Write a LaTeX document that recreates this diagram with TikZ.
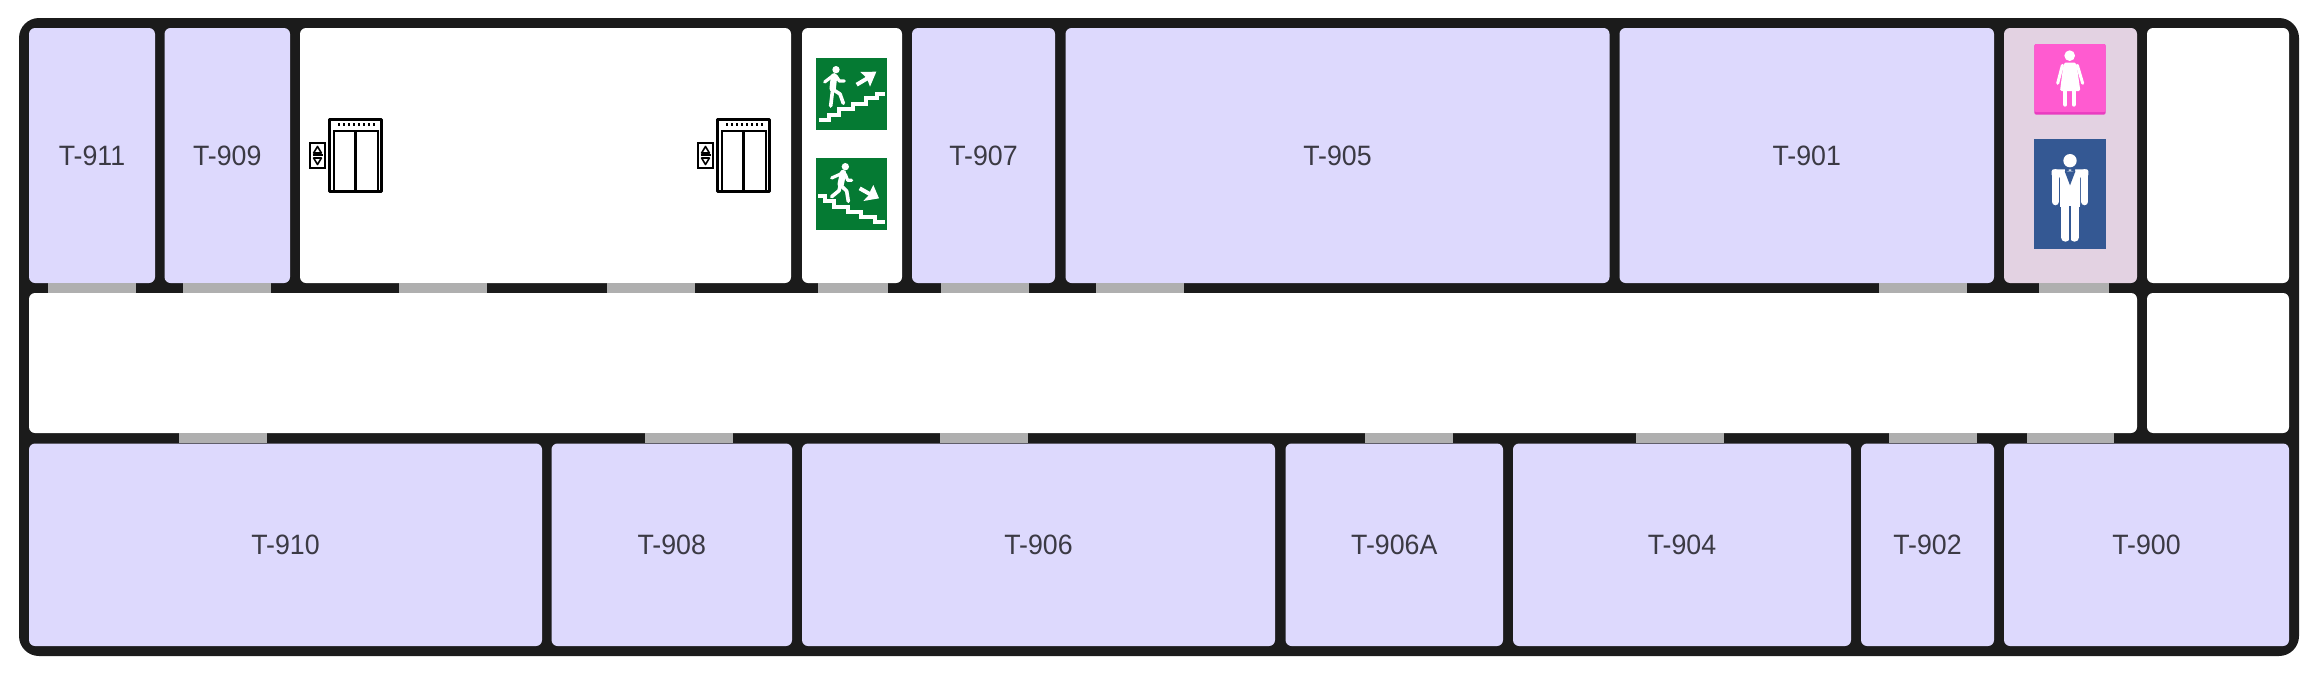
\documentclass[tikz,border=0pt]{standalone}
\usepackage{fontspec}
\setmainfont[FakeStretch=0.955]{Liberation Sans}
\definecolor{wall}{HTML}{1B1B1B}
\definecolor{roomfill}{HTML}{DDD9FD}
\definecolor{wcfill}{HTML}{E3D2E2}
\definecolor{doorgrey}{HTML}{AFAFAF}
\definecolor{labelink}{HTML}{3B3A44}
\definecolor{signgreen}{HTML}{057A33}
\definecolor{signpink}{HTML}{FF5BD0}
\definecolor{signpinkdark}{HTML}{E93CC0}
\definecolor{signblue}{HTML}{345893}
\tikzset{
  roombox/.style={rectangle,rounded corners=6pt,inner sep=0pt,outer sep=0pt,fill=roomfill,text=labelink,font=\fontsize{28}{32}\selectfont},
  whitebox/.style={roombox,fill=white},
  wcbox/.style={roombox,fill=wcfill},
  doorbox/.style={rectangle,inner sep=0pt,outer sep=0pt,fill=doorgrey},
  liftline/.style={draw=black,line width=2.6pt},
  figline/.style={draw=white,line cap=round,line join=round},
  stairline/.style={draw=white,line width=4.2pt,line join=miter,line cap=butt}
}
\newcommand{\room}[7]{% name,x0,y0,x1,y1,style,text
  \node[#6,minimum width={(#4-#2)*1pt},minimum height={(#5-#3)*1pt}] (#1) at ({(#2+#4)/2},{(#3+#5)/2}) {#7};}
\newcommand{\door}[4]{% name,x0,x1,y centre
  \node[doorbox,minimum width={(#3-#2)*1pt},minimum height=10.2pt] (#1) at ({(#2+#3)/2},#4) {};}
\newcommand{\liftsign}[1]{%
  \begin{scope}[shift={(#1,0)}]
    \draw[liftline,line join=round] (329.5,119.5) rectangle (381.5,191.5);
    \draw[liftline,line width=2pt] (333.5,191) -- (333.5,130.5) -- (377.5,130.5) -- (377.5,191);
    \draw[liftline] (355.5,130.5) -- (355.5,191);
    \foreach \dx in {0,...,7} \fill[black] ({338+\dx*5},123.4) rectangle ({340.2+\dx*5},125.6);
    \draw[liftline] (309.8,142.8) rectangle (325,167.8);
    \draw[black,line width=1.6pt] (312.5,155.2) -- (322.5,155.2);
    \draw[black,line width=1.6pt,line join=round] (317.5,146.5) -- (313.6,153) -- (321.4,153) -- cycle;
    \draw[black,line width=1.6pt,line join=round] (317.5,164.5) -- (313.6,158) -- (321.4,158) -- cycle;
  \end{scope}}
\begin{document}
\begin{tikzpicture}[x=1pt,y=-1pt]
\useasboundingbox (0,0) rectangle (2314,675);
\fill[white] (0,0) rectangle (2314,675);
\fill[wall,rounded corners=20pt] (19,18) rectangle (2299,656);
% row 1
\room{r911}{29}{28}{155}{283}{roombox}{T-911}
\room{r909}{164.5}{28}{290}{283}{roombox}{T-909}
\room{rlift}{300}{28}{791}{283}{whitebox}{}
\room{rstair}{802}{28}{902}{283}{whitebox}{}
\room{r907}{912}{28}{1055}{283}{roombox}{T-907}
\room{r905}{1065.5}{28}{1609.5}{283}{roombox}{T-905}
\room{r901}{1619.5}{28}{1994}{283}{roombox}{T-901}
\room{rwc}{2004}{28}{2137}{283}{wcbox}{}
\room{rblank}{2147}{28}{2289}{283}{whitebox}{}
% row 2
\room{rcorridor}{29}{293}{2137}{433}{whitebox}{}
\room{rside}{2147}{293}{2289}{433}{whitebox}{}
% row 3
\room{r910}{29}{443.5}{542}{646}{roombox}{T-910}
\room{r908}{551.5}{443.5}{792}{646}{roombox}{T-908}
\room{r906}{802}{443.5}{1275}{646}{roombox}{T-906}
\room{r906a}{1285.5}{443.5}{1503}{646}{roombox}{T-906A}
\room{r904}{1513}{443.5}{1851}{646}{roombox}{T-904}
\room{r902}{1861}{443.5}{1994}{646}{roombox}{T-902}
\room{r900}{2004}{443.5}{2289}{646}{roombox}{T-900}
% doors
\door{d1}{48}{136}{288}
\door{d2}{183}{271}{288}
\door{d3}{399}{487}{288}
\door{d4}{607}{695}{288}
\door{d5}{818}{888}{288}
\door{d6}{941}{1029}{288}
\door{d7}{1096}{1184}{288}
\door{d8}{1879}{1967}{288}
\door{d9}{2039}{2109}{288}
\door{d10}{179}{267}{438.3}
\door{d11}{645}{733}{438.3}
\door{d12}{940}{1028}{438.3}
\door{d13}{1365}{1453}{438.3}
\door{d14}{1636}{1724}{438.3}
\door{d15}{1889}{1977}{438.3}
\door{d16}{2027}{2114}{438.3}
% lifts
\liftsign{0}
\liftsign{388}
% signs in stair room (zoom coordinates)
\begin{scope}[shift={(680,10)},x=0.33333pt,y=-0.33333pt]
  \fill[signgreen] (407,143) rectangle (621,359);
  \fill[signgreen] (407,445) rectangle (621,660);
  % up
  \fill[white] (468,179) circle [radius=11];
  \draw[figline,line width=6.4pt] (462,199) -- (458,236);
  \draw[figline,line width=3.2pt] (460,196) -- (434,216);
  \draw[figline,line width=3.2pt] (468,198) -- (478,213) -- (493,213);
  \draw[figline,line width=3.6pt] (458,238) -- (452,288);
  \draw[figline,line width=3.6pt] (458,238) -- (480,252) -- (490,280);
  \draw[stairline] (417,331) -- (447,331) -- (447,314) -- (478,314) -- (478,298) -- (520,298) -- (520,282) -- (558,282) -- (558,265) -- (592,265) -- (592,252) -- (616,252);
  \draw[white,line width=4pt] (530,224) -- (572,199);
  \fill[white] (541,186) -- (589,185) -- (570,230) -- (564,214) -- (556,200) -- cycle;
  % down
  \fill[white] (496,470) circle [radius=11];
  \draw[figline,line width=6.4pt] (489,489) -- (482,523);
  \draw[figline,line width=3.2pt] (486,490) -- (455,504);
  \draw[figline,line width=3.2pt] (496,493) -- (503,511) -- (515,511);
  \draw[figline,line width=3.6pt] (481,525) -- (500,543) -- (505,574);
  \draw[figline,line width=3.6pt] (481,525) -- (477,542) -- (455,560);
  \draw[stairline] (415,557) -- (435,557) -- (435,572) -- (463,572) -- (463,590) -- (503,590) -- (503,606) -- (544,606) -- (544,622) -- (586,622) -- (586,636) -- (615,636);
  \draw[white,line width=4pt] (539,535) -- (578,557);
  \fill[white] (597,565) -- (550,573) -- (565,557) -- (572,541) -- (580,525) -- cycle;
\end{scope}
% WC signs (zoom coordinates)
\begin{scope}[shift={(1960,10)},x=0.33333pt,y=-0.33333pt]
  \fill[signpinkdark,rounded corners=2pt] (223,102) rectangle (437,314);
  \fill[signpink,rounded corners=2pt] (223,102) rectangle (437,306);
  \fill[white] (329,137) circle [radius=16];
  \fill[white,rounded corners=1.5pt] (312,158) -- (348,158) -- (352,180) -- (361,243) -- (300,243) -- (308,180) -- cycle;
  \draw[figline,line width=3pt] (307,166) -- (293,220);
  \draw[figline,line width=3pt] (352,166) -- (368,220);
  \draw[figline,line width=4pt] (316,243) -- (316,284);
  \draw[figline,line width=4pt] (341,243) -- (341,284);
  \fill[signblue] (222,387) rectangle (438,717);
  \fill[white] (330,452) circle [radius=20];
  \fill[white,rounded corners=2pt] (275,478) -- (385,478) -- (385,500) -- (360,500) -- (360,590) -- (300,590) -- (300,500) -- (275,500) -- cycle;
  \draw[figline,line width=7.2pt] (286,488) -- (286,575);
  \draw[figline,line width=7.2pt] (374,488) -- (374,575);
  \draw[figline,line width=8.8pt] (316,560) -- (316,682);
  \draw[figline,line width=8.8pt] (344,560) -- (344,682);
  \fill[white] (301,505) rectangle (359,590);
  \draw[signblue,line width=1.4pt] (330,588) -- (330,695);
  \fill[signblue] (314,484) -- (346,484) -- (330,526) -- cycle;
  \fill[signblue] (330,480) -- (315,473) -- (315,487) -- cycle;
  \fill[signblue] (330,480) -- (345,473) -- (345,487) -- cycle;
\end{scope}
\end{tikzpicture}
\end{document}
